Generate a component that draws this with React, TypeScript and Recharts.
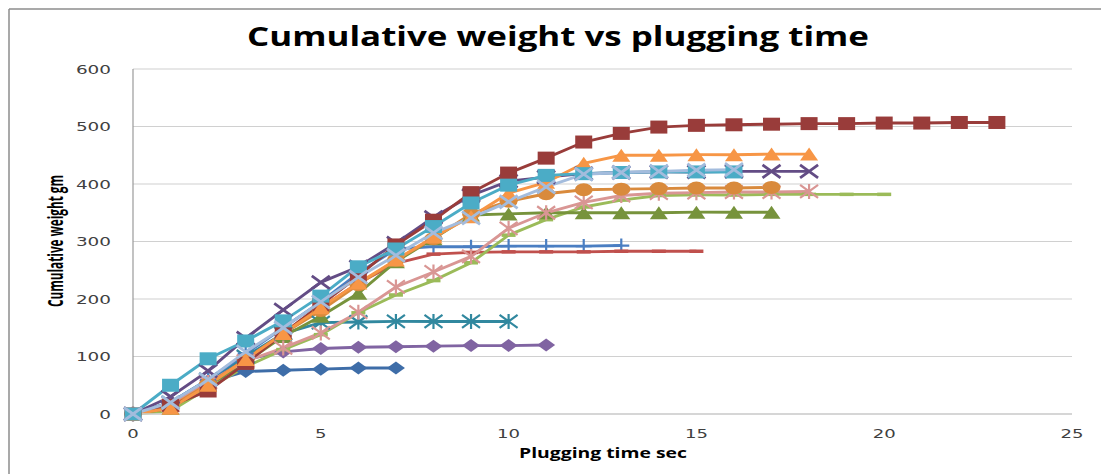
import React from 'react';
import { LineChart, Line, XAxis, YAxis, CartesianGrid } from 'recharts';

// plugging time (sec) and cumulative weight (gm) for each run
const time = [0, 1, 2, 3, 4, 5, 6, 7, 8, 9, 10, 11, 12, 13, 14, 15, 16, 17, 18, 19, 20, 21, 22, 23];
const xTicks = [0, 5, 10, 15, 20, 25];
const yTicks = [0, 100, 200, 300, 400, 500, 600];

const blueDiamond = [0, 18, 55, 74, 76, 78, 80, 80];
const purpleDiamond = [0, 18, 58, 95, 108, 114, 116, 117, 118, 119, 119, 120];
const tealStar = [0, 20, 60, 100, 140, 159, 160, 161, 161, 161, 161];
const bluePlus = [0, 20, 60, 105, 150, 195, 245, 287, 291, 291, 292, 292, 292, 293];
const redDash = [0, 15, 50, 95, 140, 185, 228, 262, 278, 281, 282, 282, 282, 283, 283, 283];
const greenDash = [0, 5, 45, 82, 112, 138, 176, 207, 232, 263, 311, 338, 360, 372, 380, 381, 381, 382, 382, 382, 382];
const oliveTriangle = [0, 10, 50, 90, 135, 170, 210, 265, 305, 346, 348, 350, 350, 350, 350, 351, 351, 351];
const pinkStar = [0, 15, 55, 92, 115, 141, 177, 221, 247, 274, 323, 350, 368, 380, 384, 385, 386, 386, 387];
const orangeCircle = [0, 12, 52, 95, 140, 180, 225, 268, 305, 348, 370, 383, 390, 391, 392, 393, 393, 394];
const purpleX = [0, 30, 75, 132, 181, 229, 256, 297, 342, 380, 405, 412, 418, 420, 421, 421, 422, 422, 422];
const darkRedSquare = [0, 15, 40, 88, 140, 190, 240, 294, 337, 385, 419, 445, 473, 488, 499, 502, 503, 504, 505, 505, 506, 506, 507, 507];
const orangeTriangle = [0, 10, 50, 95, 140, 185, 228, 268, 308, 343, 384, 403, 436, 450, 450, 451, 451, 452, 452];
const cyanSquare = [0, 50, 96, 127, 162, 205, 256, 287, 326, 367, 398, 415, 418, 420, 421, 421, 421];
const lightBlueX = [0, 20, 60, 108, 150, 195, 238, 276, 315, 341, 369, 395, 417, 420, 422, 424, 425];

const toPoints = (values: number[]) => values.map((w, i) => ({ t: time[i], w }));

type Shape = 'diamond' | 'square' | 'triangle' | 'circle' | 'x' | 'star' | 'plus' | 'dash';

const marker = (shape: Shape, color: string) => (p: any) => {
  const { cx, cy, index } = p;
  if (cx == null || cy == null) return <g key={`m-${index}`} />;
  const w = 9;
  const h = 6.5;
  let el: React.ReactNode = null;
  switch (shape) {
    case 'diamond':
      el = <polygon points={`${cx - w},${cy} ${cx},${cy - h} ${cx + w},${cy} ${cx},${cy + h}`} fill={color} />;
      break;
    case 'square':
      el = <rect x={cx - 8.5} y={cy - 6.5} width={17} height={13} fill={color} />;
      break;
    case 'triangle':
      el = <polygon points={`${cx - w},${cy + h} ${cx},${cy - h} ${cx + w},${cy + h}`} fill={color} />;
      break;
    case 'circle':
      el = <ellipse cx={cx} cy={cy} rx={w} ry={h} fill={color} />;
      break;
    case 'x':
      el = (
        <path d={`M${cx - w},${cy - h}L${cx + w},${cy + h}M${cx - w},${cy + h}L${cx + w},${cy - h}`} stroke={color} strokeWidth={2.8} />
      );
      break;
    case 'star':
      el = (
        <path
          d={`M${cx - w},${cy - h}L${cx + w},${cy + h}M${cx - w},${cy + h}L${cx + w},${cy - h}M${cx},${cy - h - 1}L${cx},${cy + h + 1}`}
          stroke={color}
          strokeWidth={2.2}
        />
      );
      break;
    case 'plus':
      el = <path d={`M${cx - 8},${cy}L${cx + 8},${cy}M${cx},${cy - 7}L${cx},${cy + 7}`} stroke={color} strokeWidth={2.2} />;
      break;
    case 'dash':
      el = <path d={`M${cx - 7},${cy}L${cx + 7},${cy}`} stroke={color} strokeWidth={3.5} />;
      break;
  }
  return <g key={`m-${index}`}>{el}</g>;
};

const series = [
  { name: 'blueDiamond', values: blueDiamond, color: '#3E6DA8', shape: 'diamond' as Shape },
  { name: 'purpleDiamond', values: purpleDiamond, color: '#8064A2', shape: 'diamond' as Shape },
  { name: 'tealStar', values: tealStar, color: '#31889F', shape: 'star' as Shape },
  { name: 'bluePlus', values: bluePlus, color: '#4A7EC2', shape: 'plus' as Shape },
  { name: 'redDash', values: redDash, color: '#C0504D', shape: 'dash' as Shape },
  { name: 'greenDash', values: greenDash, color: '#9BBB59', shape: 'dash' as Shape },
  { name: 'oliveTriangle', values: oliveTriangle, color: '#77933C', shape: 'triangle' as Shape },
  { name: 'pinkStar', values: pinkStar, color: '#D99694', shape: 'star' as Shape },
  { name: 'orangeCircle', values: orangeCircle, color: '#D98A3C', shape: 'circle' as Shape },
  { name: 'purpleX', values: purpleX, color: '#634C85', shape: 'x' as Shape },
  { name: 'darkRedSquare', values: darkRedSquare, color: '#993C3A', shape: 'square' as Shape },
  { name: 'orangeTriangle', values: orangeTriangle, color: '#F79646', shape: 'triangle' as Shape },
  { name: 'cyanSquare', values: cyanSquare, color: '#4BACC6', shape: 'square' as Shape },
  { name: 'lightBlueX', values: lightBlueX, color: '#A3BCDD', shape: 'x' as Shape },
];

const tickFont = '"DejaVu Sans", sans-serif';

const XTick = (p: any) => {
  const label = String(p.payload.value);
  return (
    <text x={p.x} y={438} textAnchor="middle" fontFamily={tickFont} fontSize={13} fill="#404040"
      textLength={label.length * 11.5} lengthAdjust="spacingAndGlyphs">
      {label}
    </text>
  );
};

const YTick = (p: any) => {
  const label = String(p.payload.value);
  return (
    <text x={111} y={p.y + 4.5} textAnchor="end" fontFamily={tickFont} fontSize={13} fill="#404040"
      textLength={label.length * 11.7} lengthAdjust="spacingAndGlyphs">
      {label}
    </text>
  );
};

export default function App() {
  return (
    <div style={{ position: 'absolute', left: 0, top: 0, width: 1101, height: 474, background: '#fff' }}>
      <LineChart width={1101} height={474} margin={{ top: 69, right: 29, bottom: 30, left: 73 }}>
        <CartesianGrid vertical={false} stroke="#D0D0D0" strokeWidth={1.2} />
        <XAxis
          type="number"
          dataKey="t"
          domain={[0, 25]}
          ticks={xTicks}
          height={30}
          axisLine={{ stroke: '#D0D0D0', strokeWidth: 1.5 }}
          tickLine={false}
          tick={<XTick />}
          allowDuplicatedCategory={false}
        />
        <YAxis
          type="number"
          domain={[0, 600]}
          ticks={yTicks}
          width={60}
          axisLine={{ stroke: '#9A9A9A', strokeWidth: 1.2 }}
          tickLine={false}
          tick={<YTick />}
        />
        {series.map((s) => (
          <Line
            key={s.name}
            data={toPoints(s.values)}
            dataKey="w"
            type="linear"
            stroke={s.color}
            strokeWidth={2.9}
            dot={marker(s.shape, s.color)}
            activeDot={false}
            isAnimationActive={false}
          />
        ))}
      </LineChart>
      <svg width={1101} height={474} style={{ position: 'absolute', left: 0, top: 0, pointerEvents: 'none' }}>
        <line x1={9} y1={9} x2={1101} y2={9} stroke="#8C8C8C" strokeWidth={1.5} />
        <line x1={9} y1={9} x2={9} y2={474} stroke="#8C8C8C" strokeWidth={1.5} />
        <text x={558} y={46} textAnchor="middle" fontFamily='"Open Sans", sans-serif' fontWeight="bold" fontSize={26}
          fill="#000" textLength={622} lengthAdjust="spacingAndGlyphs">
          Cumulative weight vs plugging time
        </text>
        <text x={603} y={458} textAnchor="middle" fontFamily='"Open Sans", sans-serif' fontWeight="bold" fontSize={14}
          fill="#000" textLength={168} lengthAdjust="spacingAndGlyphs">
          Plugging time sec
        </text>
        <text x={63} y={241} transform="rotate(-90, 63, 241)" textAnchor="middle" fontFamily='"Open Sans", sans-serif'
          fontWeight="bold" fontSize={21} fill="#000" textLength={132} lengthAdjust="spacingAndGlyphs">
          Cumulative weight gm
        </text>
      </svg>
    </div>
  );
}
